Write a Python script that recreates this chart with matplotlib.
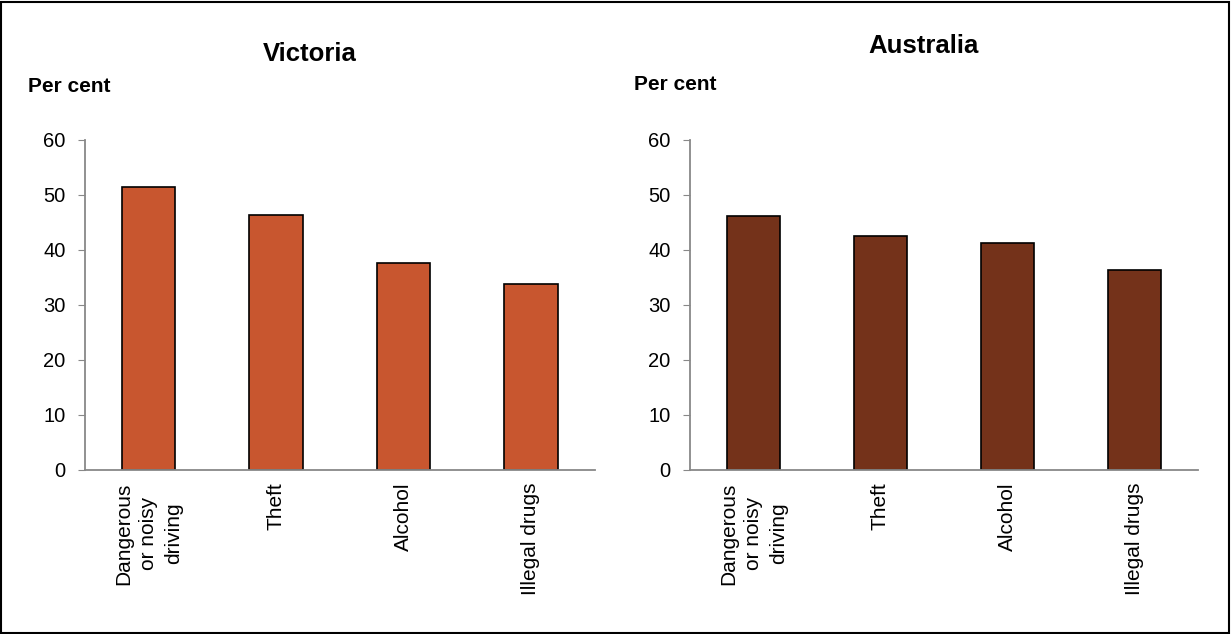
from matplotlib import pyplot as plt
from matplotlib.patches import Rectangle

plt.rcParams['font.family'] = ['Liberation Sans', 'DejaVu Sans']

# kategorien und werte (per cent)
categories = ["Dangerous\nor noisy\ndriving", "Theft", "Alcohol", "Illegal drugs"]
victoria = [51.5, 46.3, 37.7, 33.8]
australia = [46.1, 42.5, 41.3, 36.4]
yticks = [0, 10, 20, 30, 40, 50, 60]

fig = plt.figure(figsize=(12.31, 6.34), dpi=100)

# rahmen um die ganze grafik
fig.patches.append(Rectangle((0.001, 0.002), 0.997, 0.995, transform=fig.transFigure,
                             fill=False, edgecolor='black', linewidth=1.5))

panels = [
    (victoria, "Victoria", '#C8562F', [0.069, 0.2587, 0.414, 0.5205], 0.2518, 0.915, 0.0227, 0.863),
    (australia, "Australia", '#74321A', [0.5605, 0.2587, 0.4127, 0.5205], 0.7506, 0.927, 0.515, 0.866),
]

for vals, title, color, pos, tx, ty, px, py in panels:
    ax = fig.add_axes(pos)
    x = range(len(categories))
    ax.bar(x, vals, width=0.42, color=color, edgecolor='black', linewidth=1.2)
    ax.set_xlim(-0.5, len(categories) - 0.5)
    ax.set_ylim(0, 60)
    ax.set_yticks(yticks)
    ax.set_xticks(list(x))
    ax.set_xticklabels(categories, rotation=90, ha='center', va='top',
                       multialignment='center', fontsize=15, linespacing=1.4)
    ax.tick_params(axis='x', length=0, pad=9)
    ax.tick_params(axis='y', length=5, color='#888888', labelsize=14.5, pad=9)
    for s in ['top', 'right']:
        ax.spines[s].set_visible(False)
    for s in ['left', 'bottom']:
        ax.spines[s].set_color('#888888')
        ax.spines[s].set_linewidth(1.3)
    fig.text(tx, ty, title, ha='center', va='center', fontsize=18.5, fontweight='bold')
    fig.text(px, py, "Per cent", ha='left', va='center', fontsize=15, fontweight='bold')

fig.savefig("out.png", dpi=100)
